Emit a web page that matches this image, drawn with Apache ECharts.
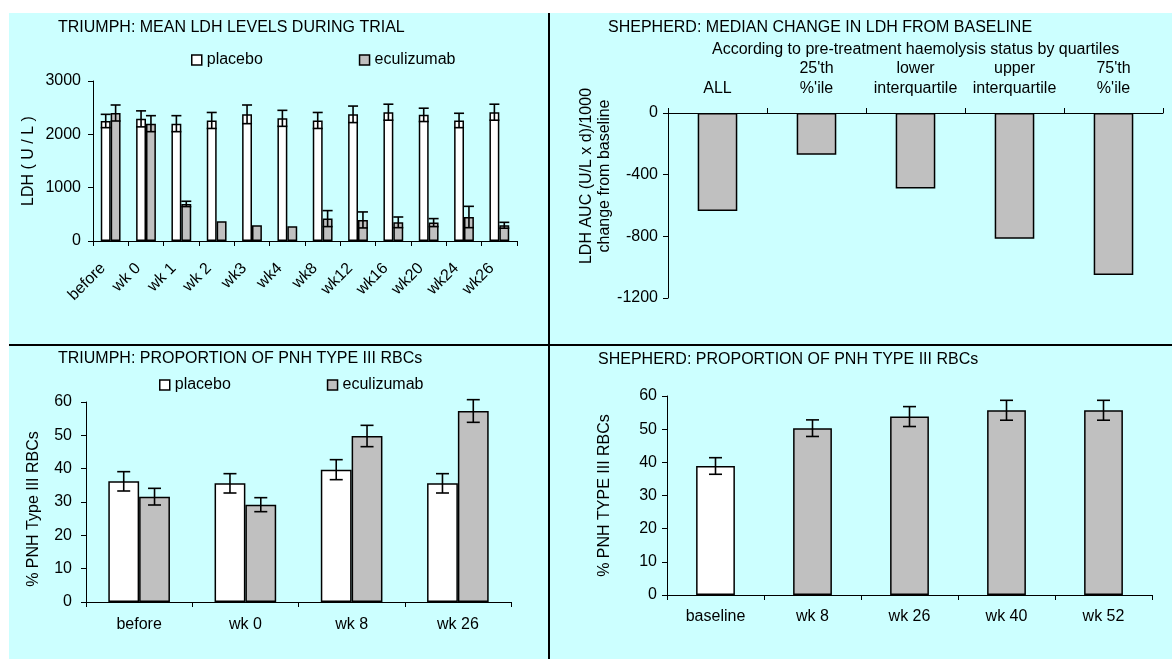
<!DOCTYPE html>
<html>
<head>
<meta charset="utf-8">
<script src="https://cdn.jsdelivr.net/npm/echarts@6/dist/echarts.min.js"></script>
<style>
  html, body { margin: 0; padding: 0; background: #fff; }
  #chart { width: 1172px; height: 659px; }
</style>
</head>
<body>
<div id="chart"></div>
<script>
// TRIUMPH: mean LDH (U/L) with error bars, by visit
const ldhVisits = ['before', 'wk 0', 'wk 1', 'wk 2', 'wk3', 'wk4', 'wk8', 'wk12', 'wk16', 'wk20', 'wk24', 'wk26'];
const ldhPlacebo = [2250, 2290, 2200, 2260, 2375, 2300, 2260, 2375, 2415, 2365, 2260, 2415];
const ldhPlaceboErr = [125, 150, 150, 150, 175, 150, 150, 155, 150, 125, 135, 150];
const ldhEculizumab = [2400, 2200, 695, 370, 295, 275, 420, 395, 350, 345, 450, 295];
const ldhEculizumabErr = [150, 150, 50, 0, 0, 0, 150, 150, 100, 75, 200, 55];
const ldhTicks = { min: 0, max: 3000, step: 1000 };

// SHEPHERD: median change in LDH AUC from baseline, by haemolysis quartile
const quartileGroups = ['ALL', "25'th\n%'ile", 'lower\ninterquartile', 'upper\ninterquartile', "75'th\n%'ile"];
const ldhAucChange = [-635, -270, -490, -815, -1050];
const aucTicks = { min: -1200, max: 0, step: 400 };

// TRIUMPH: % PNH type III RBCs
const pnhVisits = ['before', 'wk 0', 'wk 8', 'wk 26'];
const pnhPlacebo = [36.2, 35.6, 39.7, 35.6];
const pnhPlaceboErr = [2.9, 2.9, 3.0, 2.9];
const pnhEculizumab = [31.6, 29.2, 49.8, 57.3];
const pnhEculizumabErr = [2.5, 2.1, 3.2, 3.4];

// SHEPHERD: % PNH type III RBCs
const shepherdVisits = ['baseline', 'wk 8', 'wk 26', 'wk 40', 'wk 52'];
const shepherdPnh = [38.9, 50.3, 53.8, 55.7, 55.7];
const shepherdPnhErr = [2.5, 2.5, 3.0, 3.0, 3.0];
const pctTicks = { min: 0, max: 60, step: 10 };

const FONT = '"Liberation Sans", Arial, Helvetica, sans-serif';
const GREY = '#C0C0C0';
const WHITE = '#FFFFFF';
const PANEL = '#CCFFFF';

// I-shaped error bar drawn at a fractional offset inside each category band
function errorBarRenderer(offsetFrac, capHalf) {
  return function (params, api) {
    const i = api.value(0);
    const lo = api.value(1);
    const hi = api.value(2);
    if (!(hi > lo)) return null;
    const band = api.size([1, 0])[0];
    const pTop = api.coord([i, hi]);
    const pBot = api.coord([i, lo]);
    const x = pTop[0] + band * offsetFrac;
    const st = { stroke: '#000', lineWidth: 1.6 };
    return {
      type: 'group',
      children: [
        { type: 'line', shape: { x1: x, y1: pTop[1], x2: x, y2: pBot[1] }, style: st },
        { type: 'line', shape: { x1: x - capHalf, y1: pTop[1], x2: x + capHalf, y2: pTop[1] }, style: st },
        { type: 'line', shape: { x1: x - capHalf, y1: pBot[1], x2: x + capHalf, y2: pBot[1] }, style: st }
      ]
    };
  };
}
function errData(vals, errs) {
  return vals.map((v, i) => [i, v - errs[i], v + errs[i]]);
}

const plainNumber = (v) => String(v);
const labelBase = { color: '#000', fontSize: 16, fontFamily: FONT };

function catAxis(gridIndex, data, extra) {
  return Object.assign({
    type: 'category', gridIndex, data,
    axisLine: { show: true, onZero: false, lineStyle: { color: '#000', width: 1 } },
    axisTick: { show: true, length: 5, lineStyle: { color: '#000' } },
    axisLabel: Object.assign({ interval: 0 }, labelBase),
    splitLine: { show: false }
  }, extra);
}
function valAxis(gridIndex, ticks, labelMargin, extra) {
  return Object.assign({
    type: 'value', gridIndex, min: ticks.min, max: ticks.max, interval: ticks.step,
    axisLine: { show: true, lineStyle: { color: '#000', width: 1 } },
    axisTick: { show: true, length: 5, lineStyle: { color: '#000' } },
    axisLabel: Object.assign({ margin: labelMargin, formatter: plainNumber }, labelBase),
    splitLine: { show: false },
    nameLocation: 'middle',
    nameTextStyle: { color: '#000', fontSize: 16, fontFamily: FONT }
  }, extra);
}
const barStyle = (color) => ({ color, borderColor: '#000', borderWidth: 1.5 });
const titleStyle = { fontSize: 16, fontWeight: 'normal', color: '#000', fontFamily: FONT, lineHeight: 18 };
const legendBase = {
  data: ['placebo', 'eculizumab'], padding: 0, itemGap: 96, itemWidth: 10, itemHeight: 10,
  icon: 'rect', selectedMode: false, textStyle: { fontSize: 16, color: '#000', fontFamily: FONT },
  itemStyle: { borderColor: '#000', borderWidth: 1.5 }
};

const LDH_BAR = 0.28, PNH_BAR = 0.29;

const option = {
  animation: false,
  backgroundColor: '#fff',
  textStyle: { fontFamily: FONT, fontSize: 16, color: '#000' },
  title: [
    { text: 'TRIUMPH: MEAN LDH LEVELS DURING TRIAL', left: 58, top: 19, padding: 0, textStyle: titleStyle },
    { text: 'SHEPHERD: MEDIAN CHANGE IN LDH FROM BASELINE', left: 608, top: 19, padding: 0, textStyle: titleStyle },
    { text: 'According to pre-treatment haemolysis status by quartiles', left: 712, top: 41, padding: 0, textStyle: titleStyle },
    { text: 'TRIUMPH: PROPORTION OF PNH TYPE III RBCs', left: 58, top: 350, padding: 0, textStyle: titleStyle },
    { text: 'SHEPHERD: PROPORTION OF PNH TYPE III RBCs', left: 598, top: 351, padding: 0, textStyle: titleStyle }
  ],
  legend: [
    Object.assign({ left: 191, top: 52 }, legendBase),
    Object.assign({ left: 159, top: 377 }, legendBase)
  ],
  grid: [
    { left: 93, right: 655, top: 81, bottom: 418, outerBoundsMode: 'none' },
    { left: 668, right: 9, top: 113, bottom: 361, outerBoundsMode: 'none' },
    { left: 86, right: 661, top: 402, bottom: 57, outerBoundsMode: 'none' },
    { left: 667, right: 20, top: 396, bottom: 64, outerBoundsMode: 'none' }
  ],
  xAxis: [
    catAxis(0, ldhVisits, { axisLabel: Object.assign({ interval: 0, rotate: 45, margin: 17, padding: [0, 11, 0, 0] }, labelBase) }),
    catAxis(1, quartileGroups, { position: 'top', axisLabel: Object.assign({ interval: 0, margin: 14, lineHeight: 20 }, labelBase) }),
    catAxis(2, pnhVisits, { axisLabel: Object.assign({ interval: 0, margin: 15 }, labelBase) }),
    catAxis(3, shepherdVisits, { axisLabel: Object.assign({ interval: 0, margin: 14 }, labelBase) })
  ],
  yAxis: [
    valAxis(0, ldhTicks, 12, { name: 'LDH ( U / L )', nameGap: 56 }),
    valAxis(1, aucTicks, 10, {}),
    valAxis(2, pctTicks, 14, { name: '% PNH Type III RBCs', nameGap: 44,
      nameTextStyle: { color: '#000', fontSize: 16, fontFamily: FONT, padding: [0, 14, 0, 0] } }),
    valAxis(3, pctTicks, 10, { name: '% PNH TYPE III RBCs', nameGap: 54 })
  ],
  graphic: [
    { type: 'rect', z: -100, silent: true, shape: { x: 9, y: 13, width: 1163, height: 646 }, style: { fill: PANEL } },
    { type: 'line', z: 100, silent: true, shape: { x1: 549, y1: 13, x2: 549, y2: 659 }, style: { stroke: '#000', lineWidth: 2 } },
    { type: 'line', z: 100, silent: true, shape: { x1: 9, y1: 345, x2: 1172, y2: 345 }, style: { stroke: '#000', lineWidth: 2 } },
    { type: 'text', z: 100, silent: true, x: 596, y: 176, rotation: Math.PI / 2,
      style: { text: 'LDH AUC (U/L x d)/1000\nchange from baseline', fill: '#000',
               font: '16px ' + FONT, align: 'center', verticalAlign: 'middle', lineHeight: 18 } }
  ],
  series: [
    // top left
    { type: 'bar', name: 'placebo', xAxisIndex: 0, yAxisIndex: 0, data: ldhPlacebo,
      barWidth: (LDH_BAR * 100) + '%', barGap: '0%', itemStyle: barStyle(WHITE) },
    { type: 'bar', name: 'eculizumab', xAxisIndex: 0, yAxisIndex: 0, data: ldhEculizumab,
      barWidth: (LDH_BAR * 100) + '%', barGap: '0%', itemStyle: barStyle(GREY) },
    { type: 'custom', name: 'placebo error', xAxisIndex: 0, yAxisIndex: 0, z: 5,
      renderItem: errorBarRenderer(-LDH_BAR / 2, 5), encode: { x: 0, y: [1, 2] },
      data: errData(ldhPlacebo, ldhPlaceboErr) },
    { type: 'custom', name: 'eculizumab error', xAxisIndex: 0, yAxisIndex: 0, z: 5,
      renderItem: errorBarRenderer(LDH_BAR / 2, 5), encode: { x: 0, y: [1, 2] },
      data: errData(ldhEculizumab, ldhEculizumabErr) },
    // top right
    { type: 'bar', name: 'median change', xAxisIndex: 1, yAxisIndex: 1, data: ldhAucChange,
      barWidth: '40%', itemStyle: barStyle(GREY) },
    // bottom left
    { type: 'bar', name: 'placebo', xAxisIndex: 2, yAxisIndex: 2, data: pnhPlacebo,
      barWidth: (PNH_BAR * 100) + '%', barGap: '0%', itemStyle: barStyle(WHITE) },
    { type: 'bar', name: 'eculizumab', xAxisIndex: 2, yAxisIndex: 2, data: pnhEculizumab,
      barWidth: (PNH_BAR * 100) + '%', barGap: '0%', itemStyle: barStyle(GREY) },
    { type: 'custom', name: 'placebo error ', xAxisIndex: 2, yAxisIndex: 2, z: 5,
      renderItem: errorBarRenderer(-PNH_BAR / 2, 6.5), encode: { x: 0, y: [1, 2] },
      data: errData(pnhPlacebo, pnhPlaceboErr) },
    { type: 'custom', name: 'eculizumab error ', xAxisIndex: 2, yAxisIndex: 2, z: 5,
      renderItem: errorBarRenderer(PNH_BAR / 2, 6.5), encode: { x: 0, y: [1, 2] },
      data: errData(pnhEculizumab, pnhEculizumabErr) },
    // bottom right: baseline in white, treatment visits in grey
    { type: 'bar', name: 'SHEPHERD PNH', xAxisIndex: 3, yAxisIndex: 3, barWidth: '40%',
      data: shepherdPnh.map((v, i) => ({ value: v, itemStyle: barStyle(i === 0 ? WHITE : GREY) })),
      itemStyle: barStyle(GREY) },
    { type: 'custom', name: 'SHEPHERD PNH error', xAxisIndex: 3, yAxisIndex: 3, z: 5,
      renderItem: errorBarRenderer(0, 6.5), encode: { x: 0, y: [1, 2] },
      data: errData(shepherdPnh, shepherdPnhErr) }
  ]
};

const chart = echarts.init(document.getElementById('chart'));
chart.setOption(option);
</script>
</body>
</html>
